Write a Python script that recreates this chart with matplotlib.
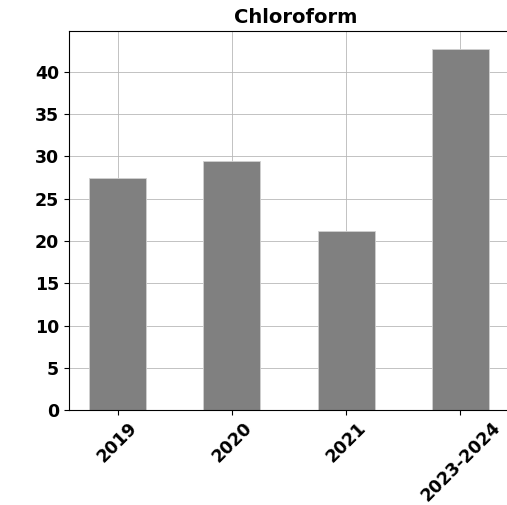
import matplotlib
matplotlib.use('Agg')
import matplotlib.pyplot as plt

years = ['2019', '2020', '2021', '2023-2024']
chloroform = [27.5, 29.5, 21.2, 42.7]

fig = plt.figure(figsize=(5.07, 5.05), dpi=100)
ax = fig.add_axes([0.136, 0.188, 0.868, 0.7506])

ax.bar(years, chloroform, width=0.5, color='gray', edgecolor='#d0d0d0', linewidth=0.6, zorder=2)
ax.grid(True, color='#b8b8b8', linewidth=0.6, zorder=0)
ax.set_axisbelow(True)

# title sits a little right of the axes centre
ax.set_title('Chloroform', fontsize=14, fontweight='bold', x=0.516)
ax.set_yticks(range(0, 45, 5))
ax.tick_params(axis='both', labelsize=12.5)
ax.tick_params(axis='x', pad=2.5)
for lbl in ax.get_xticklabels() + ax.get_yticklabels():
    lbl.set_fontweight('bold')
plt.setp(ax.get_xticklabels(), rotation=45)

fig.savefig('out.png', dpi=100)
